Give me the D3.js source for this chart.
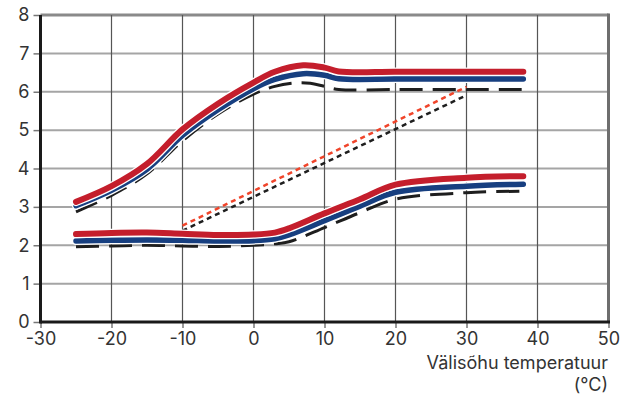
<!DOCTYPE html>
<html><head><meta charset="utf-8">
<script src="https://cdn.jsdelivr.net/npm/d3@7"></script>
<style>body{margin:0;background:#fff}svg{display:block}text{font-family:Inter,sans-serif;fill:#333}</style>
</head><body><svg id="c" width="624" height="397"></svg>
<script>
const xTicks = [-30,-20,-10,0,10,20,30,40,50];
const yTicks = [0,1,2,3,4,5,6,7,8];
const axisTitle = ["Välisõhu temperatuur", "(°C)"];

const upperRedX = [-25,-20,-15,-10,-5,0,3,7,10,12,20,30,38];
const upperRedY = [3.13,3.54,4.12,5.02,5.69,6.24,6.52,6.69,6.63,6.53,6.52,6.52,6.52];
const upperBlueX = [-25,-20,-15,-10,-5,0,3,7,10,12,20,30,38];
const upperBlueY = [3.03,3.43,3.98,4.86,5.53,6.08,6.32,6.47,6.43,6.34,6.33,6.33,6.33];
const upperBlackX = [-25,-20,-15,-10,-5,0,3,6,8,10,12,20,30,38];
const upperBlackY = [2.87,3.3,3.86,4.72,5.42,5.94,6.14,6.23,6.22,6.14,6.06,6.06,6.06,6.06];

const lowerRedX = [-25,-20,-15,-10,-5,0,3,5,10,15,20,30,38];
const lowerRedY = [2.29,2.32,2.33,2.3,2.27,2.28,2.33,2.44,2.83,3.2,3.58,3.76,3.8];
const lowerBlueX = [-25,-20,-15,-10,-5,0,3,5,10,15,20,30,38];
const lowerBlueY = [2.11,2.13,2.14,2.13,2.11,2.12,2.17,2.27,2.64,3.02,3.38,3.54,3.59];
const lowerBlackX = [-25,-20,-15,-10,-5,0,3,5,10,15,20,30,38];
const lowerBlackY = [1.96,1.98,2.0,1.98,1.97,2.0,2.04,2.09,2.46,2.85,3.2,3.37,3.41];

const dotRedX = [-10,30];
const dotRedY = [2.51,6.13];
const dotBlackX = [-10,30];
const dotBlackY = [2.38,5.91];

const svg = d3.select("#c");
const x = d3.scaleLinear().domain([-30,50]).range([40.5,608.5]);
const y = d3.scaleLinear().domain([0,8]).range([322,15]);

svg.append("g").selectAll("line").data(yTicks.filter(d=>d>0)).join("line")
  .attr("x1",x(-30)).attr("x2",x(50)).attr("y1",d=>y(d)).attr("y2",d=>y(d))
  .attr("stroke",d=>d===8?"#8a8a8a":"#a5a5a5").attr("stroke-width",d=>d===8?3:2);
svg.append("g").selectAll("line").data(xTicks.filter(d=>d>-30&&d<50)).join("line")
  .attr("x1",d=>x(d)).attr("x2",d=>x(d)).attr("y1",y(0)).attr("y2",y(8))
  .attr("stroke","#555").attr("stroke-width",1.2);
svg.append("line").attr("x1",x(50)).attr("x2",x(50)).attr("y1",y(8)-1.5).attr("y2",y(0))
  .attr("stroke","#6e6e6e").attr("stroke-width",3);

const yAxis = d3.axisLeft(y).tickValues(yTicks).tickSize(7).tickPadding(4).tickFormat(d3.format("d"));
const gy = svg.append("g").attr("transform",`translate(${x(-30)},0)`).call(yAxis);
gy.select(".domain").remove();
gy.selectAll(".tick line").attr("stroke","#777").attr("stroke-width",1.5);
gy.selectAll(".tick text").style("font-size","18px").attr("fill","#333").style("font-family","Inter");

const xAxis = d3.axisBottom(x).tickValues(xTicks).tickSize(6).tickPadding(4).tickFormat(d=>String(d).replace("−","-"));
const gx = svg.append("g").attr("transform",`translate(0,${y(0)})`).call(xAxis);
gx.select(".domain").remove();
gx.selectAll(".tick line").attr("stroke","#555").attr("stroke-width",1.2);
gx.selectAll(".tick text").style("font-size","18px").attr("fill","#333").style("font-family","Inter");

svg.append("line").attr("x1",x(-30)).attr("x2",x(-30)).attr("y1",y(8)).attr("y2",y(0)+1.5)
  .attr("stroke","#1a1a1a").attr("stroke-width",3);
svg.append("line").attr("x1",x(-30)).attr("x2",x(50)+1.5).attr("y1",y(0)).attr("y2",y(0))
  .attr("stroke","#1a1a1a").attr("stroke-width",3);

const line = d3.line().x(d=>x(d[0])).y(d=>y(d[1])).curve(d3.curveCatmullRom.alpha(0.5));
const zip = (a,b)=>a.map((v,i)=>[v,b[i]]);

function draw(xs, ys, color, width, dash, halo){
  const data = zip(xs,ys);
  if(halo){
    svg.append("path").attr("d",line(data)).attr("fill","none").attr("stroke","#fff")
      .attr("stroke-width",width+2.5).attr("stroke-linecap","round").attr("stroke-linejoin","round");
  }
  svg.append("path").attr("d",line(data)).attr("fill","none").attr("stroke",color)
    .attr("stroke-width",width).attr("stroke-linecap",dash?"butt":"round").attr("stroke-linejoin","round")
    .attr("stroke-dasharray",dash||null);
}

draw(upperBlackX, upperBlackY, "#1e1e1e", 3, "23,10", false);
draw(lowerBlackX, lowerBlackY, "#1e1e1e", 3, "23,10", false);
draw(dotBlackX, dotBlackY, "#1e1e1e", 2.5, "5,4", false);
draw(dotRedX, dotRedY, "#f0442a", 2.5, "5,4", false);
draw(upperBlueX, upperBlueY, "#173f80", 5.5, null, true);
draw(lowerBlueX, lowerBlueY, "#173f80", 5.5, null, true);
draw(upperRedX, upperRedY, "#c41e2c", 6, null, true);
draw(lowerRedX, lowerRedY, "#c41e2c", 6, null, true);

svg.append("text").attr("x",608).attr("y",369).attr("text-anchor","end")
  .style("font-size","18px").text(axisTitle[0]);
svg.append("text").attr("x",608).attr("y",391).attr("text-anchor","end")
  .style("font-size","18px").text(axisTitle[1]);
</script></body></html>
